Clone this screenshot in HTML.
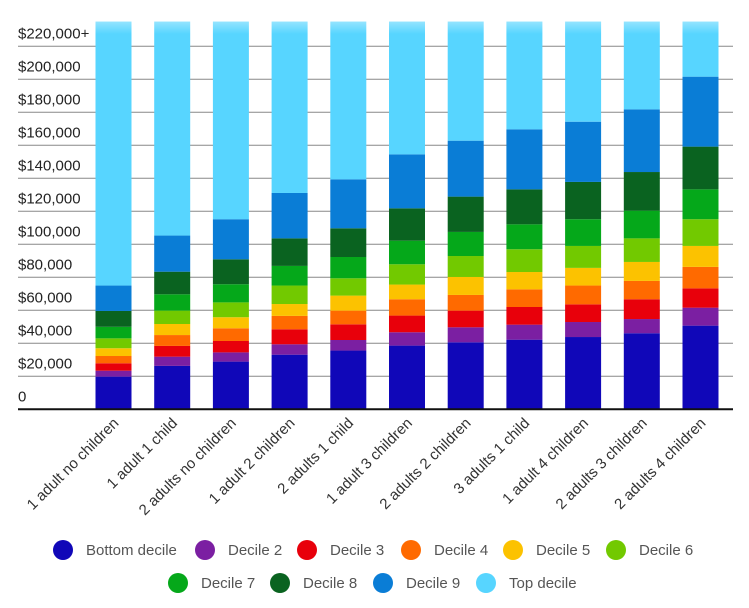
<!DOCTYPE html>
<html><head><meta charset="utf-8"><style>
body{margin:0;background:#fff;}
svg{display:block;font-family:"Liberation Sans",sans-serif;}
</style></head><body>
<svg id="chart" width="749" height="608">
<defs><linearGradient id="fade" x1="0" y1="0" x2="0" y2="1">
<stop offset="0" stop-color="#fff" stop-opacity="1"/><stop offset="1" stop-color="#fff" stop-opacity="0"/></linearGradient></defs>
<g id="grid"></g><g id="bars"></g><g id="xlabels"></g><g id="legend"></g>
</svg>
<script>
const categories=["1 adult no children","1 adult 1 child","2 adults no children","1 adult 2 children","2 adults 1 child","1 adult 3 children","2 adults 2 children","3 adults 1 child","1 adult 4 children","2 adults 3 children","2 adults 4 children"];
const seriesNames=["Bottom decile","Decile 2","Decile 3","Decile 4","Decile 5","Decile 6","Decile 7","Decile 8","Decile 9","Top decile"];
// cumulative upper thresholds (thousands $) per decile
const d1=[19.8,26.3,28.9,33.1,35.6,38.6,40.6,42.2,43.8,46.1,50.7];
const d2=[23.4,31.9,34.5,39.4,42.0,46.7,49.7,51.3,52.9,54.7,61.6];
const d3=[27.9,38.4,41.4,48.5,51.5,56.8,59.8,62.0,63.6,66.7,73.3];
const d4=[32.3,45.0,49.1,56.6,59.8,66.7,69.3,72.7,75.0,77.8,86.3];
const d5=[37.0,51.7,55.8,63.8,68.9,75.6,80.2,83.2,85.7,89.3,99.0];
const d6=[43.0,59.8,64.8,75.0,79.4,87.9,92.9,97.0,99.0,103.6,115.2];
const d7=[50.0,69.7,75.8,86.9,92.3,102.2,107.5,112.1,115.2,120.4,133.3];
const d8=[59.6,83.4,90.9,103.6,109.7,121.8,128.9,133.3,137.8,143.8,159.2];
const d9=[75.0,105.3,115.2,131.1,139.4,154.5,162.8,169.7,174.3,181.8,201.6];
const d10=[235,235,235,235,235,235,235,235,235,235,235];
const tickValues=[0,20,40,60,80,100,120,140,160,180,200,220];
const tickLabels=["0","$20,000","$40,000","$60,000","$80,000","$100,000","$120,000","$140,000","$160,000","$180,000","$200,000","$220,000+"];
const colors=["#1007b8","#7b1fa2","#e8000b","#ff6a00","#fcc200","#72c900","#05a81a","#0a6320","#0a7dd6","#57d5ff"];
const series=[d1,d2,d3,d4,d5,d6,d7,d8,d9,d10];
const NS="http://www.w3.org/2000/svg";
const y=v=>409.3-v*1.65;
const xc=i=>113.5+i*58.7;
const bw=36;
function mk(t,a,p){const e=document.createElementNS(NS,t);for(const k in a)e.setAttribute(k,a[k]);p.appendChild(e);return e;}
const grid=document.getElementById('grid');
tickValues.forEach((v,i)=>{
  if(v>0){const l=mk('line',{x1:18,x2:733,y1:y(v),y2:y(v),stroke:'#888','stroke-width':1},grid);
  
  }
  const t=mk('text',{x:18,y:y(v)-8,'font-size':15,fill:'#222'},grid);t.textContent=tickLabels[i];
  
  
});
const bars=document.getElementById('bars');
categories.forEach((c,i)=>{
  let prev=0;
  series.forEach((s,k)=>{
    const top=Math.min(s[i],235);
    const r=mk('rect',{x:xc(i)-bw/2,y:y(top),width:bw,height:y(prev)-y(top),fill:colors[k]},bars);
    
    
    prev=top;
  });
});
mk('rect',{x:80,y:0,width:660,height:34,fill:'url(#fade)'},bars);
const ax=mk('line',{x1:18,x2:733,y1:409.3,y2:409.3,stroke:'#111','stroke-width':2},bars);


const xl=document.getElementById('xlabels');
categories.forEach((c,i)=>{
  const t=mk('text',{x:0,y:0,'font-size':15,fill:'#333','text-anchor':'end',transform:`translate(${xc(i)+6},${424}) rotate(-45)`},xl);
  t.textContent=c;
  
  
});
const lg=document.getElementById('legend');
const lx=[63,205,307,411,513,616,178,280,383,486];
const ly=[550,550,550,550,550,550,583,583,583,583];
seriesNames.forEach((n,k)=>{
  const g=mk('g',{},lg);
  
  
  mk('circle',{cx:lx[k],cy:ly[k],r:10,fill:colors[k]},g);
  const t=mk('text',{x:lx[k]+23,y:ly[k]+5,'font-size':15,fill:'#555'},g);t.textContent=n;
});
</script>
</body></html>
